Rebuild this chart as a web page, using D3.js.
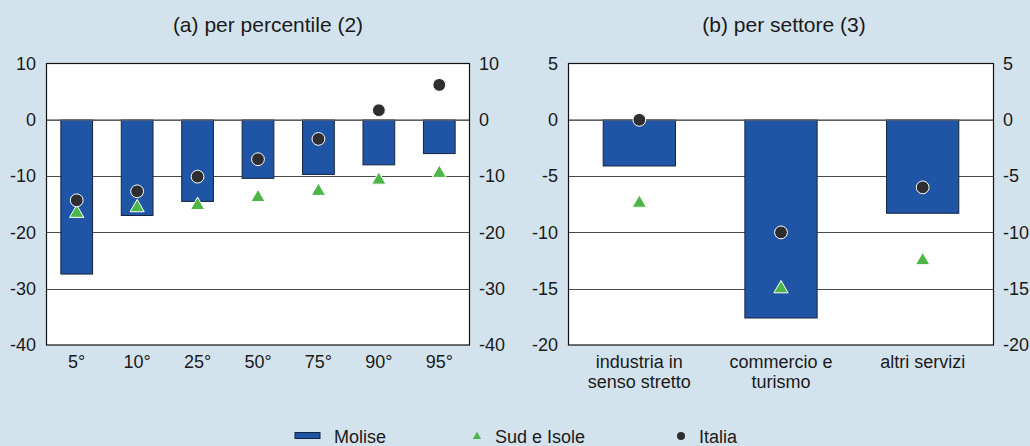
<!DOCTYPE html>
<html>
<head>
<meta charset="utf-8">
<script src="https://cdn.jsdelivr.net/npm/d3@7"></script>
<style>
  body { margin: 0; background: #d3e3ed; }
  svg { display: block; font-family: "Liberation Sans", Arial, sans-serif; }
</style>
</head>
<body>
<svg id="chart" width="1030" height="446"></svg>
<script>
var W = 1030, H = 446;

// panel (a): per percentile
var percentili = ['5°', '10°', '25°', '50°', '75°', '90°', '95°'];
var moliseA = [-27.4, -17.0, -14.5, -10.4, -9.7, -8.0, -6.0];
var sudA = [-16.6, -15.6, -15.2, -13.8, -12.7, -10.7, -9.5];
var italiaA = [-14.3, -12.7, -10.1, -7.0, -3.4, 1.7, 6.2];
var ticksA = [10, 0, -10, -20, -30, -40];

// panel (b): per settore
var settori = [['industria in', 'senso stretto'], ['commercio e', 'turismo'], ['altri servizi']];
var moliseB = [-4.1, -17.6, -8.3];
var sudB = [-7.4, -15.0, -12.5];
var italiaB = [0.0, -10.0, -6.0];
var ticksB = [5, 0, -5, -10, -15, -20];

var BAR_COLOR = '#1f55a4',
    SUD_COLOR = '#4cb748',
    ITA_COLOR = '#2e2e30',
    GRID_COLOR = '#4a4a4a',
    TXT = '#1a1a1a';

var svg = d3.select('#chart');
svg.append('rect').attr('width', W).attr('height', H).attr('fill', '#d3e3ed');

var TOP = 63.5, BOTTOM = 345;

function drawPanel(opt) {
    var x = d3.scaleBand()
        .domain(d3.range(opt.cats.length))
        .range([opt.x0, opt.x1])
        .paddingInner(opt.pad).paddingOuter(opt.pad / 2);
    var y = d3.scaleLinear().domain(opt.domain).range([TOP, BOTTOM]);
    var g = svg.append('g');

    g.append('rect')
        .attr('x', opt.x0).attr('y', TOP)
        .attr('width', opt.x1 - opt.x0).attr('height', BOTTOM - TOP)
        .attr('fill', '#fff');

    // gridlines
    g.selectAll('line.grid').data(opt.ticks.slice(1, -1)).enter()
        .append('line')
        .attr('x1', opt.x0).attr('x2', opt.x1)
        .attr('y1', function (d) { return Math.round(y(d)) + 0.5; })
        .attr('y2', function (d) { return Math.round(y(d)) + 0.5; })
        .attr('stroke', GRID_COLOR).attr('stroke-width', 1.2);

    // bars
    g.selectAll('rect.bar').data(opt.bars).enter()
        .append('rect')
        .attr('x', function (d, i) { return x(i); })
        .attr('width', x.bandwidth())
        .attr('y', function (d) { return y(Math.max(0, d)); })
        .attr('height', function (d) { return Math.abs(y(d) - y(0)); })
        .attr('fill', BAR_COLOR)
        .attr('stroke', '#14233f').attr('stroke-width', 1);

    // zero line over bars
    g.append('line')
        .attr('x1', opt.x0).attr('x2', opt.x1)
        .attr('y1', y(0)).attr('y2', y(0))
        .attr('stroke', '#777').attr('stroke-width', 1.3);

    // Sud e Isole triangles
    var tri = d3.symbol().type(d3.symbolTriangle).size(88);
    g.selectAll('path.sud').data(opt.sud).enter()
        .append('path')
        .attr('d', tri)
        .attr('transform', function (d, i) {
            return 'translate(' + (x(i) + x.bandwidth() / 2) + ',' + y(d) + ')';
        })
        .attr('fill', SUD_COLOR)
        .attr('stroke', '#fff').attr('stroke-width', 1);

    // Italia dots
    g.selectAll('circle.ita').data(opt.ita).enter()
        .append('circle')
        .attr('cx', function (d, i) { return x(i) + x.bandwidth() / 2; })
        .attr('cy', function (d) { return y(d); })
        .attr('r', 6.4)
        .attr('fill', ITA_COLOR)
        .attr('stroke', '#fff').attr('stroke-width', 1);

    // frame
    g.append('rect')
        .attr('x', opt.x0).attr('y', TOP)
        .attr('width', opt.x1 - opt.x0).attr('height', BOTTOM - TOP)
        .attr('fill', 'none').attr('stroke', '#111').attr('stroke-width', 1.2);

    // y axes (left and right), no tick marks, plain hyphen minus
    var fmt = function (d) { return String(d); };
    var axL = d3.axisLeft(y).tickValues(opt.ticks).tickFormat(fmt).tickSize(0).tickPadding(opt.x0 - opt.lblL);
    var axR = d3.axisRight(y).tickValues(opt.ticks).tickFormat(fmt).tickSize(0).tickPadding(opt.lblR - opt.x1);
    [[axL, opt.x0], [axR, opt.x1]].forEach(function (a) {
        var ax = g.append('g').attr('transform', 'translate(' + a[1] + ',0)').call(a[0]);
        ax.select('.domain').remove();
        ax.selectAll('text')
            .attr('font-size', 18).attr('fill', TXT)
            .attr('font-family', '"Liberation Sans", Arial, sans-serif');
    });

    // category labels
    var lab = g.selectAll('text.cat').data(opt.cats).enter()
        .append('text')
        .attr('x', function (d, i) { return x(i) + x.bandwidth() / 2; })
        .attr('y', 368)
        .attr('text-anchor', 'middle')
        .attr('font-size', 18).attr('fill', TXT);
    lab.each(function (d) {
        var lines = Array.isArray(d) ? d : [d];
        d3.select(this).selectAll('tspan').data(lines).enter()
            .append('tspan')
            .attr('x', d3.select(this).attr('x'))
            .attr('dy', function (l, k) { return k === 0 ? 0 : 20; })
            .text(function (l) { return l; });
    });

    // title
    svg.append('text')
        .attr('x', opt.titleX).attr('y', 32)
        .attr('text-anchor', 'middle')
        .attr('font-size', 21).attr('fill', TXT)
        .text(opt.title);
}

drawPanel({
    title: '(a) per percentile (2)', titleX: 268,
    cats: percentili, bars: moliseA, sud: sudA, ita: italiaA,
    ticks: ticksA, domain: [10, -40],
    x0: 46.5, x1: 469.5, lblL: 36, lblR: 479, pad: 0.475
});

drawPanel({
    title: '(b) per settore (3)', titleX: 784,
    cats: settori, bars: moliseB, sud: sudB, ita: italiaB,
    ticks: ticksB, domain: [5, -20],
    x0: 568.5, x1: 993.5, lblL: 558, lblR: 1003, pad: 0.49
});

// legend
var leg = svg.append('g').attr('font-size', 18).attr('fill', TXT);
leg.append('rect').attr('x', 295).attr('y', 432.5).attr('width', 25).attr('height', 6)
    .attr('fill', BAR_COLOR).attr('stroke', '#14233f').attr('stroke-width', 1);
leg.append('text').attr('x', 334).attr('y', 443).text('Molise');
leg.append('path').attr('d', d3.symbol().type(d3.symbolTriangle).size(30))
    .attr('transform', 'translate(477,436.5)').attr('fill', SUD_COLOR);
leg.append('text').attr('x', 495).attr('y', 443).text('Sud e Isole');
leg.append('circle').attr('cx', 681).attr('cy', 436).attr('r', 4).attr('fill', ITA_COLOR);
leg.append('text').attr('x', 699).attr('y', 443).text('Italia');
</script>
</body>
</html>
